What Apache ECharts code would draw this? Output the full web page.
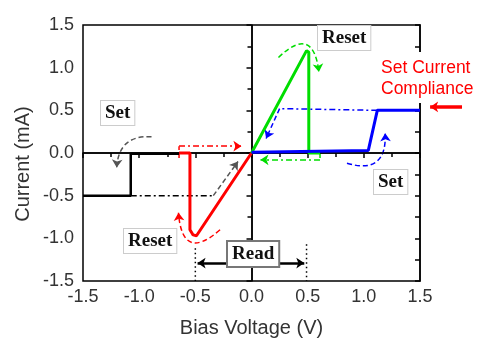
<!DOCTYPE html>
<html>
<head>
<meta charset="utf-8">
<script src="https://cdn.jsdelivr.net/npm/echarts@6/dist/echarts.min.js"></script>
<style>
  html, body { margin: 0; background: #fff; }
  #main { width: 478px; height: 343px; }
</style>
</head>
<body>
<div id="main"></div>
<script>
// axis range (V / mA)
var axisMin = -1.5, axisMax = 1.5, axisStep = 0.5;

// solid I-V branches
var blackSet = [[-1.5, -0.5], [-1.075, -0.5], [-1.075, -0.01], [-0.645, -0.01]];
var redReset = [[-0.645, 0], [-0.548, 0], [-0.548, -0.9], [-0.52, -0.96], [-0.49, -0.97], [0, 0]];
var greenReset = [[0, 0], [0.49, 1.2], [0.51, 1.18], [0.51, 0], [0.61, 0]];
var blueSet = [[0, 0.01], [1.04, 0.03], [1.12, 0.5], [1.5, 0.5]];

// sweep direction guides (last segment carries the arrow head)
var blackGuide = [[-1.075, -0.5], [-0.34, -0.5]];
var blackGuideTip = [[-0.34, -0.5], [-0.12, -0.1]];
var redGuide = [[-0.645, -0.06], [-0.645, 0.08], [-0.09, 0.08]];
var greenGuide = [[0.61, 0], [0.61, -0.08], [0.08, -0.08]];
var blueGuide = [[1.12, 0.5], [0.25, 0.52]];
var blueGuideTip = [[0.25, 0.52], [0.13, 0.17]];

// curved arrows: [from, to, curveness]
var blackArc = [[-0.89, 0.19], [-1.2, -0.17], -0.5];
var redArc = [[-0.28, -0.9], [-0.65, -0.7], 1.0];
var greenArc = [[0.24, 1.12], [0.6, 0.95], 1.0];
var blueArc = [[0.85, -0.12], [1.19, 0.23], -0.7];

// read window and compliance marker
var readArrow = [[-0.48, -1.29], [0.47, -1.29]];
var readLeft = [[-0.5, -1.115], [-0.5, -1.5]];
var readRight = [[0.49, -1.07], [0.49, -1.5]];
var complianceArrow = [[1.874, 0.54], [1.59, 0.54]];

var RED = '#ff0000', GREEN = '#00dd00', BLUE = '#0000ff', GRAY = '#555';
var DASH = [5, 3], DASHDOT = [6, 3, 2, 3];

function solid(data, color, width, extra) {
    var s = {
        type: 'line', data: data, showSymbol: false, symbol: 'none', z: 5,
        lineStyle: { color: color, width: width }, itemStyle: { color: color }
    };
    return Object.assign(s, extra || {});
}
function guide(data, color, type, width) {
    return {
        type: 'line', data: data, showSymbol: false, symbol: 'none', z: 3,
        lineStyle: { color: color, width: width || 1.5, type: type }
    };
}
function arrow(coords, color, type, width, curveness, ends, extra) {
    var s = {
        type: 'lines', coordinateSystem: 'cartesian2d', z: 4,
        symbol: ends || ['none', 'arrow'], symbolSize: 8,
        lineStyle: { color: color, width: width || 1.5, type: type, curveness: curveness || 0, opacity: 1 },
        data: [{ coords: coords }]
    };
    return Object.assign(s, extra || {});
}
function arc(a, color) {
    return arrow([a[0], a[1]], color, DASH, 1.5, a[2]);
}

var axisFont = { fontFamily: 'Liberation Sans, Arial', fontSize: 18, color: '#333' };
var boxFont = 'bold 19px "Liberation Serif", "Times New Roman", serif';

function box(text, left, top, border, bw) {
    return {
        type: 'text', left: left, top: top, z: 20,
        style: {
            text: text, font: boxFont, fill: '#111',
            backgroundColor: '#fff', borderColor: border || '#ccc', borderWidth: bw || 1,
            padding: [3, 4, 2, 4]
        }
    };
}

var chart = echarts.init(document.getElementById('main'));
var option = {
    animation: false,
    grid: { left: 83, right: 58, top: 25, bottom: 58, show: true, borderColor: '#000', borderWidth: 1.5 },
    xAxis: [{
        type: 'value', min: axisMin, max: axisMax, interval: axisStep,
        name: 'Bias Voltage (V)', nameLocation: 'middle', nameGap: 37,
        nameTextStyle: { fontFamily: 'Liberation Sans, Arial', fontSize: 20, color: '#333' },
        axisLine: { lineStyle: { color: '#000', width: 1.5 } },
        axisTick: { length: 5, lineStyle: { color: '#000', width: 1.5 } },
        minorTick: { show: true, splitNumber: 2, length: 4, lineStyle: { color: '#000', width: 1.5 } },
        splitLine: { show: false },
        axisLabel: Object.assign({ margin: 7, formatter: function (v) { return v.toFixed(1); } }, axisFont)
    }],
    yAxis: [{
        type: 'value', min: axisMin, max: axisMax, interval: axisStep,
        axisLine: { lineStyle: { color: '#000', width: 1.5 } },
        axisTick: { length: 5, lineStyle: { color: '#000', width: 1.5 } },
        minorTick: { show: true, splitNumber: 2, length: 4, lineStyle: { color: '#000', width: 1.5 } },
        splitLine: { show: false },
        axisLabel: Object.assign({ margin: 9, formatter: function (v) { return v.toFixed(1); } }, axisFont)
    }, {
        type: 'value', min: axisMin, max: axisMax, interval: axisStep, position: 'right',
        axisLine: { show: true, lineStyle: { color: '#000', width: 1.5 } },
        axisTick: { inside: true, length: 5, lineStyle: { color: '#000', width: 1.5 } },
        minorTick: { show: true, splitNumber: 2, length: 5, lineStyle: { color: '#000', width: 1.5 } },
        splitLine: { show: false },
        axisLabel: { show: false }
    }],
    series: [
        solid(blackSet, '#000', 2.5, {
            markLine: {
                silent: true, symbol: 'none', label: { show: false },
                lineStyle: { color: '#000', width: 1.5, type: 'solid' },
                data: [{ xAxis: 0 }, { yAxis: 0 }]
            }
        }),
        solid(redReset, RED, 3),
        solid(greenReset, GREEN, 3),
        solid(blueSet, BLUE, 3),

        guide(blackGuide, '#000', DASHDOT),
        arrow(blackGuideTip, GRAY, DASH),
        guide(redGuide.slice(0, -1), RED, DASH),
        arrow(redGuide.slice(-2), RED, DASHDOT),
        guide(greenGuide.slice(0, -1), GREEN, DASH),
        arrow(greenGuide.slice(-2), GREEN, DASHDOT),
        guide(blueGuide, BLUE, DASHDOT),
        arrow(blueGuideTip, BLUE, DASH),

        arc(blackArc, GRAY),
        arc(redArc, RED),
        arc(greenArc, GREEN),
        arc(blueArc, BLUE),

        arrow(readArrow, '#000', 'solid', 2.5, 0, ['arrow', 'arrow']),
        guide(readLeft, '#000', [1.5, 3]),
        guide(readRight, '#000', [1.5, 3]),
        arrow(complianceArrow, RED, 'solid', 3.5, 0, ['none', 'arrow'], { clip: false, z: 25 })
    ],
    graphic: [
        {
            type: 'text', x: 23, y: 164, rotation: Math.PI / 2, z: 20,
            style: {
                text: 'Current (mA)', fill: '#333', align: 'center', verticalAlign: 'middle',
                font: '20px "Liberation Sans", Arial, sans-serif'
            }
        },
        box('Set', 100, 100),
        box('Reset', 317, 25),
        box('Set', 373, 169),
        box('Reset', 123, 228),
        box('Read', 226, 240, '#777', 2),
        {
            type: 'text', left: 379, top: 52, z: 20,
            style: {
                text: 'Set Current\nCompliance', fill: RED, lineHeight: 21.5,
                font: '17.5px "Liberation Sans", Arial, sans-serif',
                backgroundColor: '#fff', padding: [5, 2, 3, 2]
            }
        }
    ]
};
chart.setOption(option);
</script>
</body>
</html>
